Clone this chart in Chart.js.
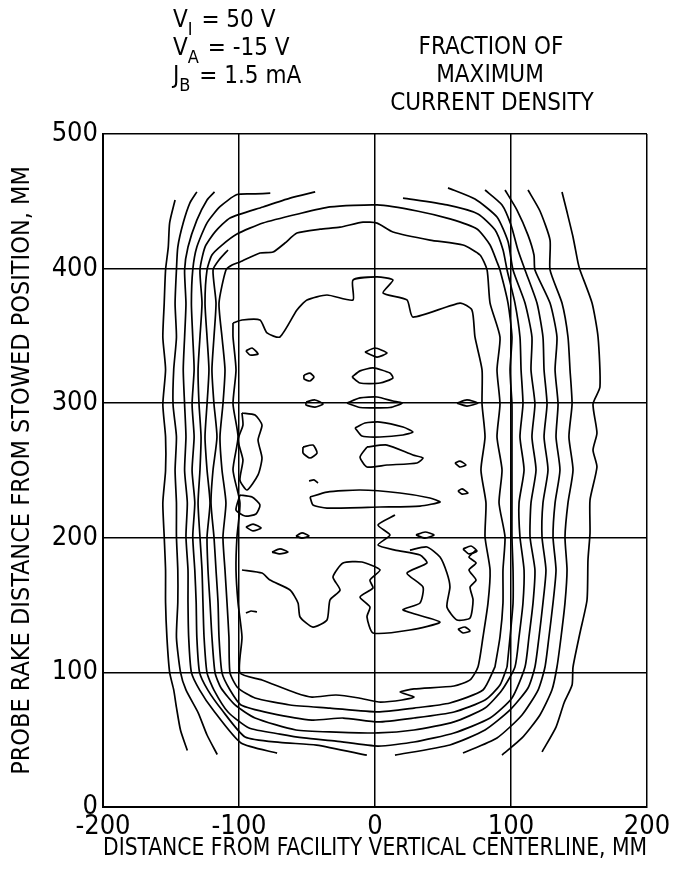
<!DOCTYPE html>
<html>
<head>
<meta charset="utf-8">
<script src="https://cdn.jsdelivr.net/npm/chart.js@4"></script>
<style>
  html, body { margin: 0; padding: 0; background: #fff; }
  #wrap { width: 677px; height: 869px; }
</style>
</head>
<body>
<div id="wrap"><canvas id="contourChart" width="677" height="869"></canvas></div>
<script>
// ---- axis ranges / tick steps ----
const xRange = [-200, 200];
const yRange = [0, 500];
const tickStep = 100;

// ---- contour traces, [mm from centerline, mm from stowed position] ----
// outer left lines, open at top and bottom
const leftOuter1 = [[-147,451],[-151,434],[-152,416],[-154,399],[-155,374],[-156,349],[-154,325],[-156,299],[-154,275],[-154,250],[-156,226],[-155,201],[-154,176],[-154,152],[-153,126],[-151,100],[-148,87],[-146,74],[-143,57],[-138,42]];
const leftOuter2 = [[-131,457],[-136,449],[-141,434],[-145,416],[-146,399],[-147,374],[-146,349],[-148,325],[-148.5,299],[-146,275],[-147,250],[-146,226],[-146,201],[-145,176],[-145,152],[-146,126],[-143,100],[-139,87],[-130,70],[-123.5,53.5],[-116,39]];
const leftOuter3 = [[-118,457],[-123.5,451],[-131,436],[-137.5,416],[-140,399],[-139,374],[-140,349],[-141,325],[-140,299],[-139,275],[-140,250],[-138,226],[-139,201],[-137.5,176],[-137.5,152],[-137,126],[-135,100],[-129,87],[-119,72],[-98.5,47.5],[-72,40]];
const leftOuter4 = [[-77,456],[-88,455.5],[-101.5,455],[-114,446],[-123.5,434],[-131,416],[-134,399],[-135,374],[-134,349],[-133,325],[-134.5,299],[-133,275],[-134.5,250],[-132.5,226],[-134,201],[-132.5,176],[-131.5,152],[-131,126],[-129,100],[-123,87],[-112.5,72],[-95.5,52],[-70,48],[-43,46],[-6,38.5]];

// U shaped line: left side, across the bottom, up the right side
const band5 = [[-44,457],[-62.5,452.4],[-82.4,445.8],[-106.6,437.6],[-117.6,427.3],[-125,416],[-128.7,399],[-127.2,374.4],[-128.7,349.2],[-130.1,324.7],[-129.4,299.4],[-127.9,274.9],[-128.7,250.4],[-130.1,225.9],[-128.7,200.6],[-127.2,176.1],[-126.5,151.6],[-125.7,126.3],[-123.5,99.6],[-118.4,86.9],[-108.1,70.6],[-92.6,58.7],[-69.9,54.2],[-52.2,51.3],[-28.7,49],[2.2,45.3],[28.7,48.3],[58.1,55],[84.6,66.1],[100.7,81],[110.3,104],[113.2,126.3],[116.2,151.6],[117.6,176.1],[114,200.6],[114.7,225.9],[118.4,250.4],[115.4,274.9],[117.6,299.4],[114.7,324.7],[115.4,349.2],[110.3,374.4],[101.5,399],[97.8,420.1],[89.7,438.3],[73.5,451.7],[53.7,460]];

const band6 = [[20.6,452.4],[52.9,447.3],[75.7,440.6],[88.2,428.8],[94.1,414],[97.1,399],[102.9,374.4],[106.6,349.2],[107.4,324.7],[108.8,299.4],[106.6,274.9],[109.6,250.4],[105.9,225.9],[106.6,200.6],[109.6,176.1],[108.8,151.6],[105.9,126.3],[102.9,104],[93.4,86.9],[80.9,73.5],[58.1,63.2],[28.7,57.2],[2.2,55],[-28.7,55.7],[-58.1,57.2],[-88.2,66.1],[-102.9,75.8],[-113.2,88.4],[-117.6,99.6],[-119.9,126.3],[-121.3,151.6],[-122.8,176.1],[-123.5,200.6],[-121.3,225.9],[-123.5,250.4],[-125,274.9],[-123.5,299.4],[-122.1,324.7],[-123.5,349.2],[-125,374.4],[-123.5,399],[-119.9,410.1],[-112.5,417.5],[-101.5,425.7],[-82.4,433.9],[-56.6,440.6],[-33.1,445.8],[1.5,447.3],[30.9,442.8],[55.1,436.9],[75,429.4],[84.6,417.5],[89.7,404.9],[91.9,399],[97.8,374.4],[100.7,349.2],[99.3,324.7],[100.7,299.4],[100.7,274.9],[100.7,250.4],[100.7,225.9],[100.7,200.6],[101.5,176.1],[101.5,151.6],[99.3,126.3],[97.1,104]];

const band7 = [[97.1,104],[91.9,90.6],[80.9,79.5],[58.1,70.6],[28.7,66.1],[2.2,63.2],[-23.5,66.1],[-46.3,64.6],[-77.2,69.8],[-98.5,75.8],[-106.6,86.9],[-112.5,99.6],[-114.7,126.3],[-115.4,151.6],[-116.9,176.1],[-118.4,200.6],[-120.6,225.9],[-119.1,250.4],[-116.2,274.9],[-118.4,299.4],[-119.9,324.7],[-118.4,349.2],[-116.9,374.4],[-119.1,399],[-114.7,406.4],[-108.1,413.8]];

// closed ring
const ring8 = [[88.2,104],[79.4,86.9],[55.1,77.3],[28.7,73.5],[2.2,70.6],[-33.1,73.5],[-62.5,75.8],[-88.2,81],[-100.7,88.4],[-106.6,99.6],[-107.4,126.3],[-108.8,151.6],[-110.3,176.1],[-111.8,200.6],[-109.6,225.9],[-112.5,250.4],[-114,274.9],[-111.8,299.4],[-110.3,324.7],[-112.5,349.2],[-114.7,374.4],[-109.6,399],[-105.1,402.7],[-99.3,404.9],[-84.6,411.6],[-75,412.3],[-66.2,419],[-57.4,426.4],[-40.4,429.3],[-25.7,430.8],[-8.8,434.5],[1.5,433.8],[13.2,427.2],[40.4,421.2],[64.7,417.5],[77.2,410.1],[82.4,399],[84.6,374.4],[91.9,349.2],[89.7,324.7],[91.9,299.4],[89.7,274.9],[93.4,250.4],[91.2,225.9],[95.6,200.6],[94.1,176.1],[94.1,151.6],[91.9,126.3],[88.2,104]];

// innermost irregular ring
const ring9 = [[-104.4,359.6],[-97.8,361.8],[-84.6,361.8],[-79.4,352.2],[-69.9,349.2],[-57.4,369.2],[-50,376.7],[-35.3,380.4],[-16.2,376.7],[-16.2,391.5],[1.5,393.8],[13.2,391.5],[5.9,381.9],[23.5,376.7],[27.9,364],[62.5,374.4],[71.3,369.2],[73.5,349.2],[78.7,324.7],[78.7,299.4],[80.9,274.9],[77.9,250.4],[81.6,225.9],[80.9,200.6],[84.6,176.1],[83.1,151.6],[79.4,126.3],[75.7,104],[69.9,94.4],[58.1,89.9],[28.7,87.7],[18.4,85.4],[28.7,81.7],[19.9,79.5],[2.9,78],[-11.8,81],[-28.7,83.2],[-46.3,81.7],[-58.1,84.7],[-83.1,94.4],[-99.3,99.6],[-97.8,126.3],[-100.7,151.6],[-102.2,176.1],[-101.5,200.6],[-99.3,225.9],[-104.4,250.4],[-100.7,274.9],[-104.4,299.4],[-102.2,324.7],[-104.4,349.2],[-104.4,359.6]];

// outer right lines, open at top and bottom
const rightOuter3 = [[80.9,458.4],[93.4,447.3],[100,432.4],[105.1,413.8],[110.3,399],[119.1,374.4],[123.5,349.2],[124.3,324.7],[126.5,299.4],[124.3,274.9],[127.2,250.4],[123.5,225.9],[122.8,200.6],[125.7,176.1],[123.5,151.6],[120.6,126.3],[117.6,104],[112.5,88.4],[99.3,72.1],[80.9,57.2],[55.1,46.1],[14.7,38.6]];
const rightOuter2 = [[95.6,458.4],[104.4,443.5],[112.5,424.9],[116.9,410.1],[117.6,399],[128.7,374.4],[133.8,349.2],[132.4,324.7],[134.6,299.4],[133.1,274.9],[136,250.4],[132.4,225.9],[130.9,200.6],[133.1,176.1],[130.9,151.6],[127.9,126.3],[125,104],[119.9,86.9],[108.1,68.4],[89.7,51.3],[64.7,40.1]];
const rightOuter1 = [[112.5,458.4],[121.3,442.8],[128.7,421.2],[128.7,399],[137.5,374.4],[141.9,349.2],[143.4,324.7],[144.9,299.4],[142.6,274.9],[145.6,250.4],[141.9,225.9],[139.7,200.6],[141.2,176.1],[139.7,151.6],[136.8,126.3],[133.8,104],[130.1,86.9],[121.3,68.4],[108.1,51.3],[93.4,38.6]];
const rightOuter0 = [[137.5,456.9],[141.2,442],[145.6,423.5],[149.3,404.2],[150.7,399],[159.6,374.4],[164,349.2],[165.4,312],[160.3,299.4],[163.2,277.9],[160.3,265.2],[163.2,252.6],[158.1,228.1],[158.1,203.6],[156.6,183.5],[155.9,153.8],[150.7,129.3],[145.6,104],[144.9,90.6],[139,77.3],[133.1,59.4],[122.8,40.9]];

// irregular interior pieces
const innerLower = [[-97.8,176.1],[-83.1,173.8],[-77.2,168.6],[-62.5,161.2],[-56.6,151.6],[-55.1,141.2],[-45.6,133.7],[-35.3,138.9],[-33.1,153.8],[-25.7,161.2],[-30.9,170.9],[-23.5,181.3],[-9.6,182],[3.7,176.1],[-3.7,168.6],[-1.5,162.7],[-11,156],[-3.7,148.6],[-5.9,141.2],[-1.5,129.3],[25.7,131.5],[47.8,137.4],[20.6,146.4],[33.1,151.6],[35.3,163.4],[23.5,173.8],[38.2,181.3],[33.1,187.2],[14.7,190.9],[2.2,194.7],[11,202.1],[2.2,209.5],[14.7,216.9]];
const innerRight = [[25.7,190.9],[38.2,193.2],[47.8,185.7],[52.9,173.8],[55.1,163.4],[52.9,148.6],[60.3,138.9],[69.9,140.4],[72.1,153.8],[69.9,163.4],[74.3,168.6],[69.1,176.1],[74.3,181.3],[69.1,185.7],[74.3,190.9]];
const streak230 = [[-47.8,230.3],[-35.3,234],[-11,235.5],[18.4,233.3],[40.4,229.6],[47.8,226.6],[33.1,223.6],[3.7,222.9],[-35.3,222.1],[-45.6,224.4],[-47.8,230.3]];
const streak260 = [[-5.9,267.5],[8.8,268.9],[27.9,261.5],[35.3,259.3],[30.9,255.6],[8.8,254.1],[-5.9,252.6],[-11,260],[-5.9,267.5]];
const eye280 = [[-14.7,281.6],[-7.4,285.3],[3.7,286],[20.6,282.3],[27.9,278.6],[20.6,276.4],[3.7,274.9],[-9.6,275.6],[-14.7,281.6]];
const eye300 = [[-20.6,300.1],[-11,303.9],[1.5,304.6],[13.2,301.6],[19.9,300.1],[11,296.8],[-11,296.8],[-20.6,300.1]];
const eye320 = [[-16.9,319.5],[-11,324],[-1.5,326.2],[11,322.4],[13.2,318.7],[3.7,315],[-11,315],[-16.9,319.5]];
const eye338 = [[-7.4,338],[0,341],[8.8,337.3],[1.5,334.3],[-7.4,338]];
const gridBlobLeft = [[-97.8,292.7],[-88.2,291.2],[-83.1,283.8],[-86,272.7],[-83.1,259.3],[-86,246.7],[-94.1,235.5],[-99.3,242.9],[-97.1,257.8],[-100.7,272.7],[-97.1,283.8],[-97.8,292.7]];
const gridBlobLeft2 = [[-99.3,231.8],[-90.4,230.3],[-84.6,224.4],[-87.5,217.7],[-95.6,216.2],[-102.2,220.7],[-99.3,231.8]];
const dotA = [[-52.2,320.9],[-47.8,322.4],[-44.9,319.5],[-47.8,316.5],[-52.2,318],[-52.2,320.9]];
const dotB = [[-52.9,267.5],[-45.6,268.9],[-42.6,263],[-47.8,259.3],[-52.9,263],[-52.9,267.5]];
const dashA = [[-94.9,338.8],[-90.4,341],[-86,336.6],[-91.9,335.8],[-94.9,338.8]];
const dashB = [[-50.7,300.9],[-44.1,302.4],[-38.2,299.4],[-44.1,297.1],[-50.7,298.6],[-50.7,300.9]];
const dashC = [[58.8,255.6],[62.5,257],[66.9,254.1],[62.5,252.6],[58.8,255.6]];
const dashD = [[61,234.8],[64,236.3],[68.4,233.3],[64,232.5],[61,234.8]];
const dashE = [[64.7,191.7],[70.6,193.9],[75,190.2],[69.1,188],[64.7,191.7]];
const dashF = [[61,132.2],[66.2,133.7],[69.9,130.8],[64.7,129.3],[61,132.2]];
const dashG = [[30.1,202.1],[36.8,204.3],[43.4,202.1],[36.8,199.8],[30.1,202.1]];
const dashH = [[60.3,300.1],[67.6,302.4],[75.7,300.1],[67.6,297.9],[60.3,300.1]];
const dashI = [[-94.9,208],[-89.7,210.2],[-83.8,207.3],[-89.7,205.1],[-94.9,208]];
const dashJ = [[-75.7,189.4],[-69.9,191.7],[-64,189.4],[-69.9,188],[-75.7,189.4]];
const dashK = [[-58.1,201.3],[-53.7,203.6],[-48.5,201.3],[-53.7,199.8],[-58.1,201.3]];
const dashL = [[-94.9,144.1],[-91.2,145.6],[-86.8,144.9]];
const dashM = [[-48.5,242.2],[-44.9,243],[-41.9,240.7]];

const traces = [
  leftOuter1, leftOuter2, leftOuter3, leftOuter4,
  band5, band6, band7, ring8, ring9,
  rightOuter3, rightOuter2, rightOuter1, rightOuter0,
  innerLower, innerRight, streak230, streak260, eye280, eye300, eye320, eye338,
  gridBlobLeft, gridBlobLeft2, dotA, dotB,
  dashA, dashB, dashC, dashD, dashE, dashF, dashG, dashH, dashI, dashJ, dashK, dashL, dashM
];

const FONT = "'Liberation Sans Narrow', 'DejaVu Sans Condensed', 'Arial Narrow', sans-serif";

// header text (conditions and key caption)
const headerText = {
  id: 'headerText',
  afterDraw(chart) {
    const ctx = chart.ctx;
    ctx.save();
    ctx.fillStyle = '#000';
    ctx.textBaseline = 'alphabetic';

    function subLine(x, y, main, sub, rest) {
      ctx.font = '24px ' + FONT;
      ctx.textAlign = 'left';
      ctx.fillText(main, x, y);
      let w = ctx.measureText(main).width;
      ctx.font = '18px ' + FONT;
      ctx.fillText(sub, x + w, y + 8);
      w += ctx.measureText(sub).width + 2;
      ctx.font = '24px ' + FONT;
      ctx.fillText(rest, x + w, y);
    }
    subLine(173, 27, 'V', 'I', ' = 50 V');
    subLine(173, 55, 'V', 'A', ' = -15 V');
    subLine(173, 83, 'J', 'B', ' = 1.5 mA');

    ctx.font = '24px ' + FONT;
    ctx.textAlign = 'center';
    ctx.fillText('FRACTION OF', 491, 54);
    ctx.fillText('MAXIMUM', 490, 82);
    ctx.fillText('CURRENT DENSITY', 492, 110);
    ctx.restore();
  }
};

const ctx = document.getElementById('contourChart').getContext('2d');
new Chart(ctx, {
  type: 'scatter',
  data: {
    datasets: traces.map(pts => ({
      data: pts.map(p => ({ x: p[0], y: p[1] })),
      showLine: true,
      borderColor: '#000',
      borderWidth: 1.7,
      pointRadius: 0,
      pointHoverRadius: 0,
      fill: false,
      tension: 0.2
    }))
  },
  options: {
    responsive: false,
    animation: false,
    devicePixelRatio: 1,
    layout: { padding: { top: 134, right: 30, left: 0, bottom: 0 } },
    plugins: {
      legend: { display: false },
      tooltip: { enabled: false }
    },
    scales: {
      x: {
        type: 'linear',
        min: xRange[0],
        max: xRange[1],
        afterFit(scale) { scale.height = 62; },
        ticks: { stepSize: tickStep, color: '#000', padding: 4, font: { family: FONT, size: 27 } },
        grid: { color: '#000', lineWidth: 1.5, drawTicks: false },
        border: { color: '#000', width: 2 },
        title: {
          display: true,
          text: 'DISTANCE FROM FACILITY VERTICAL CENTERLINE, MM',
          color: '#000',
          font: { family: FONT, size: 25 },
          padding: { top: 0, bottom: 6 }
        }
      },
      y: {
        type: 'linear',
        min: yRange[0],
        max: yRange[1],
        afterFit(scale) { scale.width = 103; },
        ticks: { stepSize: tickStep, color: '#000', padding: 5, font: { family: FONT, size: 27 } },
        grid: { color: '#000', lineWidth: 1.5, drawTicks: false },
        border: { color: '#000', width: 2 },
        title: {
          display: true,
          text: 'PROBE RAKE DISTANCE FROM STOWED POSITION, MM',
          color: '#000',
          font: { family: FONT, size: 25 },
          padding: { top: 7, bottom: 0 }
        }
      }
    }
  },
  plugins: [headerText]
});
</script>
</body>
</html>
